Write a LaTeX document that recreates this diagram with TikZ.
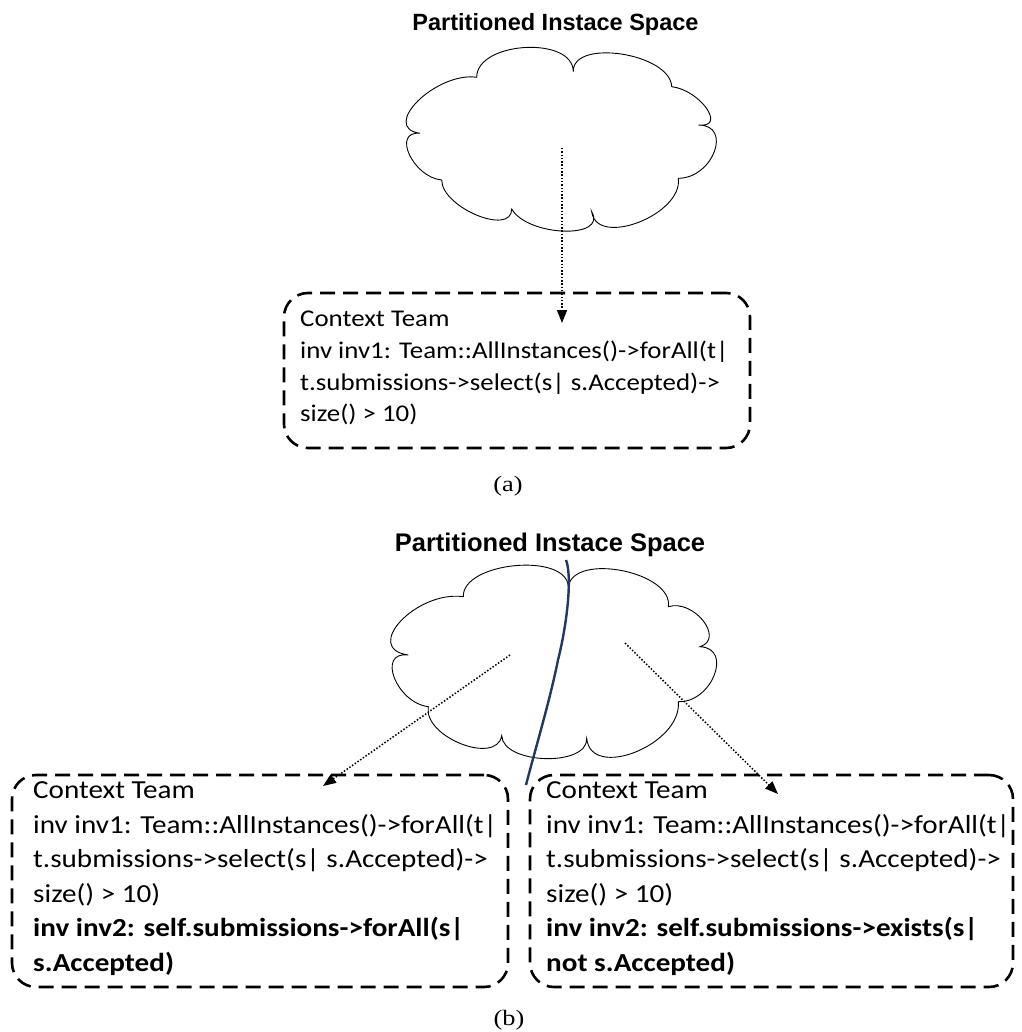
\documentclass[tikz,border=0pt]{standalone}
\usepackage{fontspec}
\setmainfont{Carlito}
\newfontfamily\codefont[FakeStretch=1.12]{Carlito}
\newfontfamily\titlefont{Liberation Sans}
\newfontfamily\capfont[FakeStretch=1.2]{Liberation Serif}
\usetikzlibrary{arrows.meta}
\definecolor{navyline}{RGB}{31,56,100}
\begin{document}
\begin{tikzpicture}[x=1pt,y=-1pt,
  ctxbox/.style={draw, line width=2.6pt, dash pattern=on 15pt off 8pt, rounded corners=24pt, inner sep=0pt},
  cloudline/.style={draw, line width=0.9pt, line join=miter},
  dotarrow/.style={line width=1.5pt, dash pattern=on 1.5pt off 1.8pt, -{Triangle[length=13pt,width=10pt]}},
  titletext/.style={font=\titlefont\bfseries\fontsize{23.5}{28}\selectfont},
  captext/.style={font=\capfont\fontsize{22}{26}\selectfont},
  codetop/.style={anchor=north west, inner sep=0pt, align=left, font=\codefont\fontsize{24}{31.7}\selectfont},
  codebot/.style={anchor=north west, inner sep=0pt, align=left, font=\codefont\fontsize{26}{34.6}\selectfont},
  divider/.style={draw=navyline, line width=2.4pt}
]
\useasboundingbox (0,0) rectangle (1021,1032);

% ---------- (a) ----------
\node[titletext] (t1) at (555.5,24) {Partitioned Instace Space};
% cloud 1
\path[cloudline] (476.7,77.3)
  .. controls (476.7,41.3) and (573.3,35.7) .. (573.3,71.7)
  .. controls (572,38.2) and (670.4,53.2) .. (671.7,86.7)
  .. controls (700.5,90.2) and (727.1,128.5) .. (698.3,125)
  .. controls (733,125) and (713,178.3) .. (678.3,178.3)
  .. controls (683.1,214.7) and (596.5,248.1) .. (591.7,211.7)
  .. controls (607.7,239.4) and (527.7,236.7) .. (511.7,209)
  .. controls (511.7,236.5) and (441.7,207.5) .. (441.7,180)
  .. controls (413.1,177.4) and (391.4,130.7) .. (420,133.3)
  .. controls (379.4,127.5) and (436.1,71.5) .. (476.7,77.3) -- cycle;
\node[ctxbox, minimum width=466pt, minimum height=155pt] (b1) at (517,370.5) {};
\node[codetop] (x1) at (300,311) {Context Team\\inv inv1: Team::AllInstances()->forAll(t|\\t.submissions->select(s| s.Accepted)->\\size() > 10)};
\coordinate (s1) at (562,148);
\coordinate (e1) at (562,323);
\draw[dotarrow] (s1) -- (e1);
\node[captext] (la) at (508,486) {(a)};

% ---------- (b) ----------
\node[titletext, font=\titlefont\bfseries\fontsize{25.5}{30}\selectfont] (t2) at (550,545) {Partitioned Instace Space};
% cloud 2
\path[cloudline] (463.3,596.7)
  .. controls (462,562) and (567,552) .. (568.3,586.7)
  .. controls (573.7,552) and (673.7,572) .. (668.3,606.7)
  .. controls (693.6,598.7) and (725.3,638.7) .. (700,646.7)
  .. controls (733.4,648) and (711.7,703) .. (678.3,701.7)
  .. controls (682.3,744.4) and (590.7,781) .. (586.7,738.3)
  .. controls (588,767.1) and (503,764.5) .. (501.7,735.7)
  .. controls (496.4,765.8) and (423,736.8) .. (428.3,706.7)
  .. controls (396.3,702.6) and (376.3,650.9) .. (408.3,655)
  .. controls (361.7,648.4) and (416.7,590.1) .. (463.3,596.7) -- cycle;
\node[ctxbox, minimum width=496pt, minimum height=212pt] (b2) at (260,881) {};
\node[ctxbox, minimum width=483pt, minimum height=212pt] (b3) at (771.5,881) {};
\node[codebot] (x2) at (33,781.5) {Context Team\\inv inv1: Team::AllInstances()->forAll(t|\\t.submissions->select(s| s.Accepted)->\\size() > 10)\\\textbf{inv inv2: self.submissions->forAll(s|}\\\textbf{s.Accepted)}};
\node[codebot] (x3) at (546,781.5) {Context Team\\inv inv1: Team::AllInstances()->forAll(t|\\t.submissions->select(s| s.Accepted)->\\size() > 10)\\\textbf{inv inv2: self.submissions->exists(s|}\\\textbf{not s.Accepted)}};
\coordinate (s2) at (510,655);
\coordinate (e2) at (323,786);
\coordinate (s3) at (625,643);
\coordinate (e3) at (778,794);
\draw[dotarrow] (s2) -- (e2);
\draw[dotarrow] (s3) -- (e3);
\coordinate (d1) at (566,560);
\coordinate (dm) at (558,660);
\coordinate (d2) at (526,785);
\draw[divider] (d1) .. controls (572,575) and (568,620) .. (dm) .. controls (550,700) and (535,750) .. (d2);
\node[captext] (lb) at (509,1020) {(b)};
\end{tikzpicture}
\end{document}
